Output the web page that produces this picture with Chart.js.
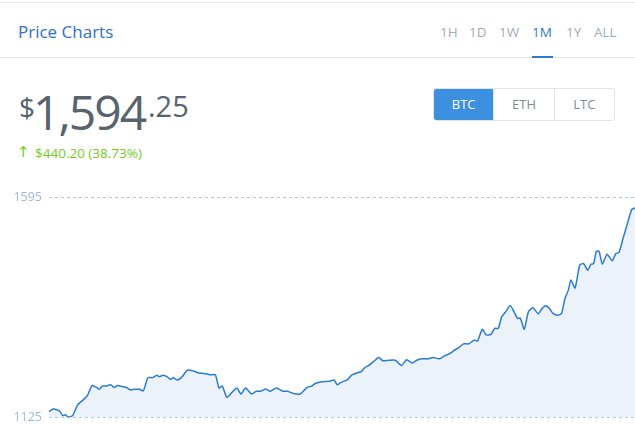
<!DOCTYPE html>
<html>
<head>
<meta charset="utf-8">
<script src="https://cdn.jsdelivr.net/npm/chart.js@4/dist/chart.umd.min.js"></script>
<style>
  html, body { margin: 0; padding: 0; background: #fff; overflow: hidden; }
  body { width: 635px; height: 424px; position: relative; font-family: 'Open Sans', sans-serif; }
  .abs { position: absolute; white-space: nowrap; }
  .rule { position: absolute; left: 0; width: 635px; height: 1px; background: #e4e8ed; }
  .title { left: 18px; top: 22px; font-size: 17px; line-height: 20px; color: #2f6fc9; }
  .tab { top: 22px; font-size: 13.5px; line-height: 20px; color: #a2abb8; }
  .tab.active { color: #2e7ad1; }
  .tab-line { position: absolute; left: 532px; top: 56px; width: 21px; height: 2px; background: #2e7ad1; }
  .price { color: #58636f; }
  .btn-group { position: absolute; left: 433px; top: 88px; width: 182px; height: 33px; display: flex;
    border: 1px solid #dfe4ea; border-radius: 3px; box-sizing: border-box; overflow: hidden; }
  .btn { flex: 1; text-align: center; font-size: 13px; line-height: 31px; color: #7f8c99; }
  .btn + .btn { border-left: 1px solid #dfe4ea; }
  .btn.active { background: #3d8fe0; color: #fff; }
  .change { color: #74cc1c; font-size: 13.5px; line-height: 16px; top: 145px; }
  #chartWrap { position: absolute; left: 0; top: 180px; width: 635px; height: 252px; }
</style>
</head>
<body>
  <div class="rule" style="top:2px"></div>
  <div class="abs title">Price Charts</div>
  <div class="abs tab" style="left:440px">1H</div>
  <div class="abs tab" style="left:469px">1D</div>
  <div class="abs tab" style="left:499px">1W</div>
  <div class="abs tab active" style="left:532px">1M</div>
  <div class="abs tab" style="left:566px">1Y</div>
  <div class="abs tab" style="left:594px">ALL</div>
  <div class="rule" style="top:57px"></div>
  <div class="tab-line"></div>

  <div class="abs price" style="left:19px; top:93px; font-size:28px; line-height:28px;">$</div>
  <div class="abs price" style="left:33px; top:88px; font-size:48px; line-height:48px; letter-spacing:-2px;">1,594</div>
  <div class="abs price" style="left:148px; top:91px; font-size:29px; line-height:29px;">.25</div>

  <div class="abs change" style="left:17px; top:144px; font-size:15px; font-family:'DejaVu Sans';">↑</div>
  <div class="abs change" style="left:35px;">$440.20 (38.73%)</div>

  <div class="btn-group">
    <div class="btn active">BTC</div>
    <div class="btn">ETH</div>
    <div class="btn">LTC</div>
  </div>

  <div id="chartWrap"><canvas id="priceChart"></canvas></div>

<script>
// days into the month (0..30)
const days = [
  0, 0.22, 0.43, 0.56, 0.70, 0.84, 0.97, 1.21, 1.45, 1.73, 1.96, 2.20, 2.44, 2.58, 2.72, 2.92,
  3.16, 3.33, 3.50, 3.74, 3.98, 4.15, 4.39, 4.63, 4.83, 5.07, 5.32, 5.52, 5.65, 5.83, 6.03, 6.24,
  6.37, 6.55, 6.78, 7.09, 7.40, 7.67, 7.94, 8.25, 8.52, 8.70, 8.87, 9.11, 9.38, 9.62, 9.83, 10.06,
  10.37, 10.61, 10.85, 11.09, 11.33, 11.64, 11.98, 12.21, 12.52, 12.86, 13.21, 13.44, 13.65, 13.98,
  14.32, 14.59, 14.76, 15.00, 15.27, 15.48, 15.75, 15.99, 16.16, 16.37, 16.61, 16.88, 17.08, 17.39,
  17.73, 18.04, 18.31, 18.59, 18.83, 19.10, 19.37, 19.68, 19.99, 20.26, 20.47, 20.74, 21.01, 21.22,
  21.49, 21.77, 21.94, 22.18, 22.38, 22.62, 22.82, 23.00, 23.17, 23.41, 23.61, 23.82, 23.99, 24.13,
  24.33, 24.54, 24.77, 25.05, 25.22, 25.42, 25.63, 25.80, 26.04, 26.24, 26.41, 26.59, 26.72, 26.93,
  27.17, 27.37, 27.58, 27.75, 27.88, 28.02, 28.16, 28.33, 28.57, 28.84, 29.01, 29.18, 29.39, 29.59,
  29.83, 30.00
];

// BTC price in USD
const prices = [
  1138, 1143, 1141, 1138, 1129, 1131, 1126, 1129, 1151, 1162, 1171, 1193, 1189, 1185, 1192, 1192,
  1195, 1189, 1193, 1191, 1189, 1184, 1185, 1185, 1182, 1210, 1210, 1215, 1212, 1215, 1212, 1206,
  1210, 1205, 1210, 1226, 1224, 1220, 1219, 1216, 1216, 1188, 1192, 1168, 1179, 1188, 1175, 1188,
  1175, 1181, 1181, 1186, 1181, 1188, 1181, 1181, 1176, 1175, 1189, 1192, 1198, 1201,
  1202, 1205, 1195, 1201, 1205, 1215, 1220, 1223, 1231, 1236, 1244, 1253, 1246, 1247,
  1247, 1236, 1248, 1241, 1247, 1250, 1250, 1253, 1250, 1257, 1260, 1268, 1275, 1282,
  1282, 1290, 1288, 1313, 1301, 1302, 1315, 1315, 1339, 1352, 1364, 1349, 1336, 1337,
  1313, 1350, 1359, 1346, 1356, 1363, 1357, 1347, 1343, 1347, 1378, 1397, 1418, 1401,
  1450, 1453, 1439, 1452, 1453, 1479, 1479, 1452, 1473, 1459, 1474, 1477, 1507, 1535,
  1568, 1572
];

const yMin = 1125;
const yMax = 1595;

const points = days.map((d, i) => ({ x: d, y: prices[i] }));

const ctx = document.getElementById('priceChart').getContext('2d');
new Chart(ctx, {
  type: 'line',
  data: {
    datasets: [
      {
        data: points,
        borderColor: '#2b7bd4',
        borderWidth: 1.5,
        backgroundColor: '#ebf2fa',
        fill: 'start',
        tension: 0.2,
        pointRadius: 0,
      },
    ],
  },
  options: {
    responsive: true,
    maintainAspectRatio: false,
    animation: false,
    layout: { padding: { top: 17, bottom: 13, left: 0, right: 0 } },
    plugins: {
      legend: { display: false },
      tooltip: { enabled: false },
    },
    scales: {
      x: {
        type: 'linear',
        min: 0,
        max: 30,
        display: false,
      },
      y: {
        min: yMin,
        max: yMax,
        z: 1, // grid on top of the fill
        afterFit: (scale) => { scale.width = 49; },
        ticks: {
          stepSize: yMax - yMin,
          padding: 7,
          color: '#9db7e2',
          font: { family: 'Open Sans', size: 12.5 },
          callback: (value) => String(value), // no thousands separator
        },
        grid: {
          drawTicks: false,
          color: '#a9c5ea',
          lineWidth: 1,
        },
        border: { display: false, dash: [3, 3] },
      },
    },
  },
});
</script>
</body>
</html>
